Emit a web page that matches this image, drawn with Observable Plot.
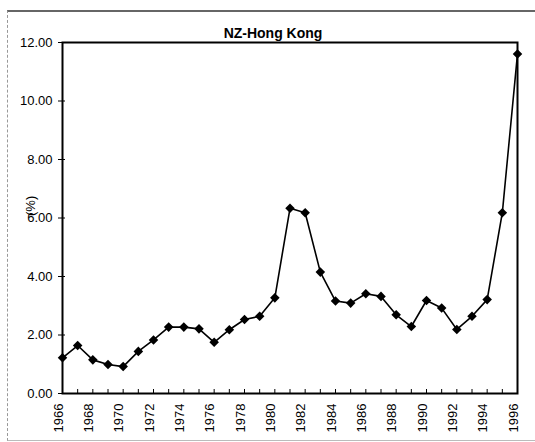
<!DOCTYPE html>
<html>
<head>
<meta charset="utf-8">
<script src="https://cdn.jsdelivr.net/npm/d3@7"></script>
<script src="https://cdn.jsdelivr.net/npm/@observablehq/plot@0.6"></script>
<style>
  html, body { margin: 0; padding: 0; background: #fff; }
  #wrap { position: relative; width: 535px; height: 442px; overflow: hidden; }
  #border { position: absolute; left: 7px; top: 10px; width: 540px; height: 431px;
    border-left: 1px dashed #999; border-top: 2px solid #666; border-bottom: 1px solid #bbb; box-sizing: border-box; }
  #chart { position: absolute; left: 0; top: 0; }
</style>
</head>
<body>
<div id="wrap"><div id="border"></div><div id="chart"></div></div>
<script>
const title = "NZ-Hong Kong";
const yLabel = "(%)";
const years = [1966,1967,1968,1969,1970,1971,1972,1973,1974,1975,1976,1977,1978,1979,1980,1981,1982,1983,1984,1985,1986,1987,1988,1989,1990,1991,1992,1993,1994,1995,1996];
const values = [1.22,1.64,1.15,0.99,0.92,1.44,1.83,2.27,2.27,2.21,1.75,2.18,2.53,2.64,3.27,6.33,6.18,4.15,3.16,3.09,3.41,3.32,2.69,2.29,3.18,2.92,2.19,2.64,3.21,6.18,11.61];
const yTicks = [0,2,4,6,8,10,12];
const xLabelYears = [1966,1968,1970,1972,1974,1976,1978,1980,1982,1984,1986,1988,1990,1992,1994,1996];

const data = years.map((y, i) => ({year: y, value: values[i]}));

const chart = Plot.plot({
  width: 535,
  height: 442,
  marginLeft: 62,
  marginRight: 18,
  marginTop: 42,
  marginBottom: 49,
  style: {fontFamily: "'Liberation Sans', Arial, sans-serif", fontSize: "13px", color: "black", background: "transparent"},
  x: {domain: [1966, 1996]},
  y: {domain: [0, 12]},
  marks: [
    Plot.frame({stroke: "black", strokeWidth: 2}),
    Plot.axisY({ticks: yTicks, tickFormat: d => d.toFixed(2), tickSize: 4, tickPadding: 6, label: null, fontSize: 13}),
    Plot.axisY({ticks: yTicks, tickFormat: () => "", tickSize: -3, label: null}),
    Plot.axisX({ticks: years, tickFormat: () => "", tickSize: -4, label: null}),
    Plot.axisX({ticks: xLabelYears, tickFormat: d => String(d), tickRotate: -90, tickSize: 0, tickPadding: 10, dx: -4, label: null, fontSize: 13}),
    Plot.line(data, {x: "year", y: "value", stroke: "black", strokeWidth: 1.6}),
    Plot.dot(data, {x: "year", y: "value", symbol: "diamond2", r: 4.3, fill: "black", stroke: "none"}),
    Plot.text([title], {frameAnchor: "top", lineAnchor: "middle", dy: -9, dx: -17, fontWeight: "bold", fontSize: 14}),
    Plot.text([yLabel], {frameAnchor: "left", dx: -32, dy: -2, rotate: -90, fontSize: 13})
  ]
});
document.getElementById("chart").appendChild(chart);
</script>
</body>
</html>
